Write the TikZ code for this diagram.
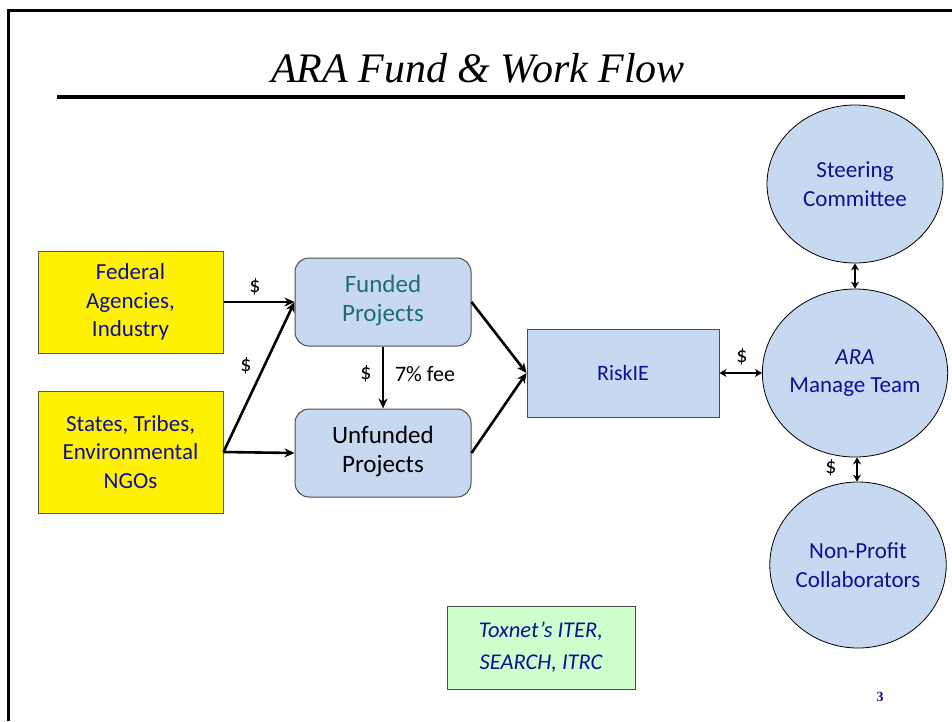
\documentclass[tikz,border=0pt]{standalone}
\usepackage{fontspec}
\setmainfont{Liberation Serif}
\newfontfamily\calfont{Carlito}
\usetikzlibrary{shapes.geometric,positioning,arrows.meta}

\definecolor{boxblue}{RGB}{198,217,241}
\definecolor{txtblue}{RGB}{16,16,150}
\definecolor{teal2}{RGB}{30,110,115}
\definecolor{pastgreen}{RGB}{204,255,204}

\begin{document}
\begin{tikzpicture}[x=1pt,y=-1pt]

        \tikzset{
            src/.style={draw=black!65,fill=yellow,line width=1pt,
                minimum width=185pt,align=center,text=txtblue,
                font=\calfont\fontsize{23}{28.5}\selectfont},
            proj/.style={draw=black!70,fill=boxblue,line width=1pt,
                rounded corners=14pt,minimum width=176pt,minimum height=88pt,
                align=center,font=\calfont\fontsize{25}{29}\selectfont},
            circ/.style={ellipse,draw=black,fill=boxblue,line width=0.8pt,
                inner sep=0pt,align=center,text=txtblue,
                font=\calfont\fontsize{23}{28.5}\selectfont},
            lbl/.style={inner sep=0pt,font=\calfont\fontsize{22}{26}\selectfont},
            flow/.style={line width=2.6pt,-{Stealth[length=10pt,width=9pt]}},
            both/.style={line width=2.6pt,
                {Stealth[length=7pt,width=8pt]}-{Stealth[length=7pt,width=8pt]}}
        }

        \useasboundingbox (0,0) rectangle (952,721);

        % slide frame and title
        \draw[line width=3pt] (8,721) -- (8,10) -- (952,10);
        \node (title) at (478,68)
        {\itshape\fontsize{42}{46}\selectfont ARA Fund \& Work Flow};
        \draw[line width=4pt] (57,97) -- (905,97);

        \begin{scope}
            \node[src, minimum height=102pt] (fed) at (130.5,302)
            {Federal\\ Agencies,\\ Industry};
            \node[src, minimum height=122pt] (states) at (130.5,452)
            {States, Tribes,\\ Environmental\\ NGOs};

            \node[proj, text=teal2] (funded) at (383,302)
            {Funded\\ Projects\\[-21pt]};
            \node[proj] (unfunded) at (383,453)
            {Unfunded\\ Projects\\[-21pt]};

            \node[draw=black!70, fill=boxblue, line width=1pt,
                minimum width=192pt, minimum height=88pt, text=txtblue,
                font=\calfont\fontsize{22}{26}\selectfont] (riskie) at (623,373)
            {RiskIE};

            \node[circ, minimum width=176pt, minimum height=158pt] (steer)
            at (855,184) {Steering\\ Committee};
            \node[circ, minimum width=176pt, minimum height=168pt] (ara)
            at (855,373) {\textit{ARA}\\ Manage Team};
            \node[circ, minimum width=166pt, minimum height=166pt] (nonprofit)
            at (858,565) {Non-Profit\\ Collaborators};

            \node[draw=black!70, fill=pastgreen, line width=1pt,
                minimum width=188pt, minimum height=83pt, align=center,
                text=txtblue, font=\calfont\itshape\fontsize{22.5}{32}\selectfont]
            (toxnet) at (541,647.5) {Toxnet’s ITER,\\ SEARCH, ITRC};

            \node[text=txtblue, font=\bfseries\fontsize{14}{16}\selectfont]
            (page) at (880,697) {3};
        \end{scope}

        \begin{scope}
            \draw[flow] (fed.east) -- (funded.west);
            \draw[flow] (states.east) -- (funded.west);
            \draw[flow] (states.east) -- (unfunded.west);
            \draw[flow] (funded.south) -- (unfunded.north);
            \draw[flow] (funded.east) -- (riskie.west);
            \draw[flow] (unfunded.east) -- (riskie.west);
            \draw[both] (riskie.east) -- (ara.west);
            \draw[both] (steer.south) -- (ara.north);
            \draw[both] ([xshift=2pt]ara.south) -- ([xshift=-1pt]nonprofit.north);

            \node[lbl] (d1) at (255,287) {\$};
            \node[lbl] (d2) at (246,366) {\$};
            \node[lbl] (d3) at (366,374) {\$};
            \node[lbl] (fee) at (425,374) {7\% fee};
            \node[lbl] (d4) at (742,357) {\$};
            \node[lbl] (d5) at (831,468) {\$};
        \end{scope}

\end{tikzpicture}
\end{document}
